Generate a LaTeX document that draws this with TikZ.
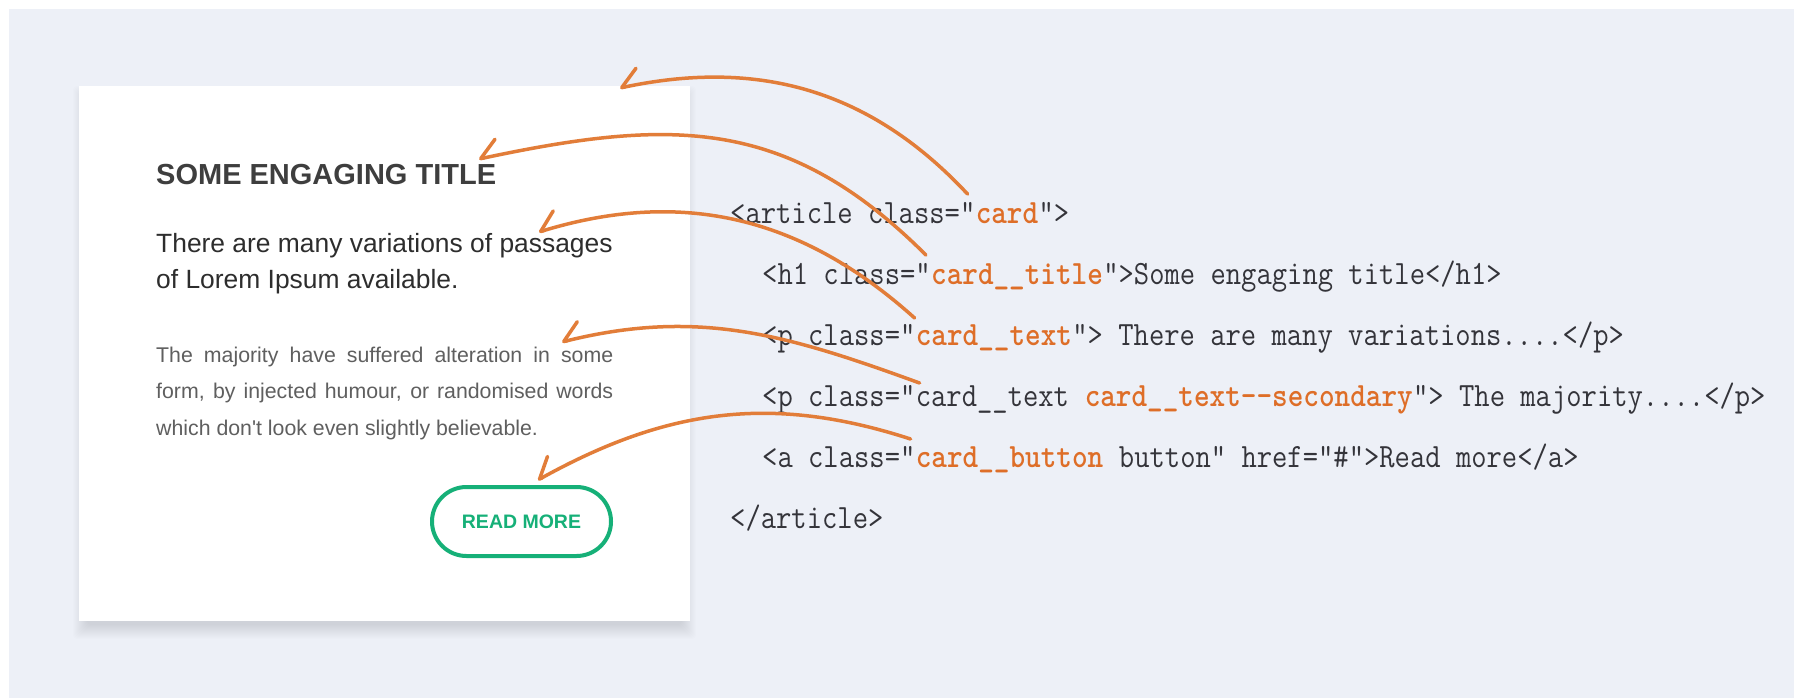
\documentclass[tikz,border=0pt]{standalone}
\usepackage{fontspec}
\newfontfamily\cardfont{Liberation Sans}
\usepackage{tikz}
\usetikzlibrary{positioning,arrows.meta}
\tikzset{>={Straight Barb[right,length=18pt,width=32pt,round]}}

\definecolor{achtergrond}{RGB}{237,240,247}
\definecolor{pijloranje}{RGB}{226,125,57}
\definecolor{codeoranje}{RGB}{222,110,40}
\definecolor{codegrijs}{RGB}{52,52,58}
\definecolor{knopgroen}{RGB}{22,176,120}
\definecolor{titelgrijs}{RGB}{62,62,62}
\definecolor{tekstgrijs}{RGB}{45,45,45}
\definecolor{lichtgrijs}{RGB}{95,95,95}

% typewriter text a little narrower
\newcommand\codebit[1]{\scalebox{0.875}[1]{#1}}

\begin{document}
\begin{tikzpicture}[x=1pt,y=-1pt,
                    code/.style={anchor=base west,inner sep=0,text=codegrijs,font=\fontsize{34}{34}\selectfont\ttfamily},
                    klasse/.style={code,text=codeoranje,font=\fontsize{34}{34}\selectfont\ttfamily\bfseries},
                    kaarttekst/.style={anchor=base west,inner sep=0},
                    pijl/.style={->,draw=pijloranje,line width=3.5pt,line cap=round},
       ]
       \fill[white] (0,0) rectangle (1794,698);
       \fill[achtergrond] (9,9) rectangle (1794,698);
       % the card with its soft shadow
       \foreach \i in {0,...,14}
           \fill[black,opacity=0.009,rounded corners=4pt] (87-\i,100-\i) rectangle (682+\i,625+\i);
       \node[fill=white,inner sep=0,minimum width=611pt,minimum height=535pt] (card) at (384.5,353.5) {};
       \node[kaarttekst,text=titelgrijs,font=\cardfont\bfseries\fontsize{29}{29}\selectfont] (title) at (156,185) {SOME ENGAGING TITLE};
       \node[kaarttekst,text=tekstgrijs,font=\cardfont\fontsize{26.4}{36}\selectfont] (lead) at (156,252)
            {\parbox[t]{480pt}{There are many variations of passages\\of Lorem Ipsum available.}};
       \node[kaarttekst,text=lichtgrijs,font=\cardfont\fontsize{21.3}{36.5}\selectfont] (secondary) at (156,362)
            {\parbox[t]{457pt}{\makebox[457pt][s]{The majority have suffered alteration in some}\\
                               \makebox[457pt][s]{form, by injected humour, or randomised words}\\
                               which don't look even slightly believable.}};
       \node[draw=knopgroen,line width=4pt,rounded corners=34.5pt,minimum width=179pt,minimum height=69pt,inner sep=0,
             text=knopgroen,font=\cardfont\bfseries\fontsize{19.5}{19.5}\selectfont] (button) at (521.5,521.5) {READ MORE};

       % the markup
       \node[code] (article) at (730,223) {\codebit{<article class=”}};
       \node[klasse] (kcard) at (article.base east) {\codebit{card}};
       \node[code] at (kcard.base east) {\codebit{”>}};
       \node[code] (h1) at (762,284) {\codebit{<h1 class=”}};
       \node[klasse] (ktitle) at (h1.base east) {\codebit{card\_\_title}};
       \node[code] at (ktitle.base east) {\codebit{”>Some engaging title</h1>}};
       \node[code] (p1) at (762,345) {\codebit{<p class=”}};
       \node[klasse] (ktext) at (p1.base east) {\codebit{card\_\_text}};
       \node[code] at (ktext.base east) {\codebit{”> There are many variations....</p>}};
       \node[code] (p2) at (762,406) {\codebit{<p class=”}};
       \node[code] (ptext) at (p2.base east) {\codebit{card\_\_text\ }};
       \node[klasse] (ksecondary) at (ptext.base east) {\codebit{card\_\_text-{}-secondary}};
       \node[code] at (ksecondary.base east) {\codebit{”> The majority....</p>}};
       \node[code] (a) at (762,467) {\codebit{<a class=”}};
       \node[klasse] (kbutton) at (a.base east) {\codebit{card\_\_button}};
       \node[code] at (kbutton.base east) {\codebit{\ button” href=”\#”>Read more</a>}};
       \node[code] (articleend) at (730,528) {\codebit{</article>}};

       \coordinate (tcard) at (620,88);
       \coordinate (ttitle) at (479,159);
       \coordinate (ttext) at (539,232);
       \coordinate (tsecondary) at (562,342);
       \coordinate (tbutton) at (538,480);
       \draw[pijl] ([xshift=-8pt,yshift=8pt]kcard.north west) to[out=133,in=12] (tcard);
       \draw[pijl] ([xshift=-5pt,yshift=8pt]ktitle.north west) to[out=135,in=12,looseness=1.1] (ttitle);
       \draw[pijl] ([xshift=-1pt,yshift=6pt]ktext.north west) to[out=138,in=17] (ttext);
       \draw[pijl] ([xshift=4pt,yshift=2pt]ptext.north west) to[out=160,in=14] (tsecondary);
       \draw[pijl] ([xshift=-5pt,yshift=7pt]kbutton.north west) to[out=162,in=29] (tbutton);
\end{tikzpicture}
\end{document}
